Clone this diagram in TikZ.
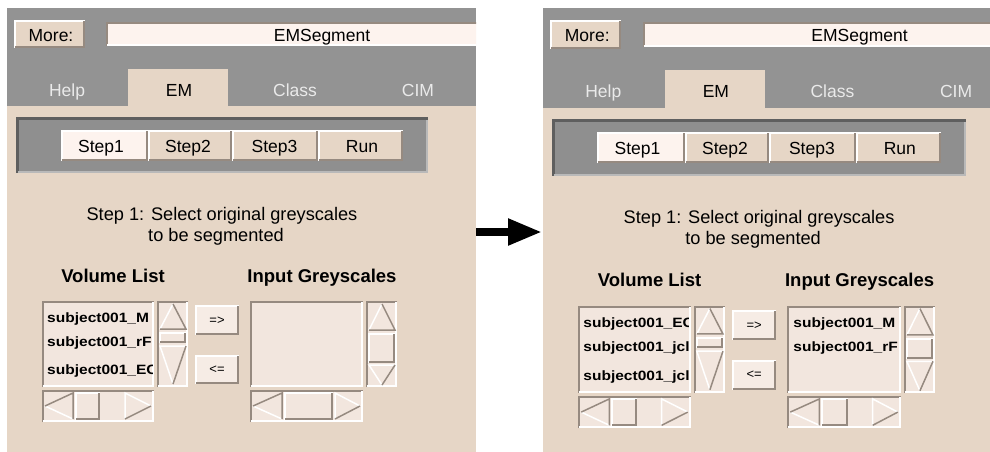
\documentclass[tikz,border=0pt]{standalone}
\usepackage{fontspec}
\usepackage{graphicx}
\setmainfont{Liberation Sans}
\usetikzlibrary{arrows.meta}
\definecolor{beige}{RGB}{230,214,198}
\definecolor{hdrgray}{RGB}{147,147,147}
\definecolor{fieldbg}{RGB}{253,243,238}
\definecolor{listbg}{RGB}{242,230,222}
\definecolor{btnbg}{RGB}{246,236,229}
\definecolor{bevdark}{RGB}{150,138,128}
\definecolor{framedark}{RGB}{95,95,95}
\definecolor{framelight}{RGB}{185,185,185}
\definecolor{tabtext}{RGB}{234,234,234}
\definecolor{stepbg}{RGB}{143,143,143}
\tikzset{
  uitext/.style={font=\fontsize{17.5}{20}\selectfont, inner sep=0pt, text=black, anchor=base},
  insttext/.style={font=\fontsize{18.2}{21}\selectfont, inner sep=0pt, text=black, anchor=base},
  tablabel/.style={uitext, text=tabtext},
  headtext/.style={font=\bfseries\fontsize{18.5}{22}\selectfont, inner sep=0pt, anchor=base},
  itemtext/.style={font=\bfseries\fontsize{13.5}{15}\selectfont, inner sep=0pt, anchor=base west},
  smalltext/.style={font=\fontsize{13}{15}\selectfont, inner sep=0pt},
}
\newcommand\raisedbox[5]{%
  \fill[#5] (#1,#2) rectangle (#3,#4);
  \draw[white,line width=2pt] (#1+1,#4) -- (#1+1,#2+1) -- (#3,#2+1);
  \draw[bevdark,line width=2pt] (#1+1,#4-1) -- (#3-1,#4-1) -- (#3-1,#2+1);
}
\newcommand\sunkenbox[5]{%
  \fill[#5] (#1,#2) rectangle (#3,#4);
  \draw[bevdark,line width=2pt] (#1+1,#4) -- (#1+1,#2+1) -- (#3,#2+1);
  \draw[white,line width=2pt] (#1+1,#4-1) -- (#3-1,#4-1) -- (#3-1,#2+1);
}
\newcommand\uptri[4]{%
  \fill[listbg] ({(#1+#2)/2},#3) -- (#1,#4) -- (#2,#4) -- cycle;
  \draw[white,line width=1.5pt] (#1,#4) -- ({(#1+#2)/2},#3);
  \draw[bevdark,line width=1.5pt] ({(#1+#2)/2},#3) -- (#2,#4) -- (#1,#4);
}
\newcommand\downtri[4]{%
  \fill[listbg] (#1,#3) -- (#2,#3) -- ({(#1+#2)/2},#4) -- cycle;
  \draw[white,line width=1.5pt] ({(#1+#2)/2},#4) -- (#1,#3) -- (#2,#3);
  \draw[bevdark,line width=1.5pt] (#2,#3) -- ({(#1+#2)/2},#4);
}
\newcommand\lefttri[4]{%
  \fill[listbg] (#1,{(#3+#4)/2}) -- (#2,#3) -- (#2,#4) -- cycle;
  \draw[white,line width=1.5pt] (#2,#4) -- (#1,{(#3+#4)/2});
  \draw[bevdark,line width=1.5pt] (#1,{(#3+#4)/2}) -- (#2,#3) -- (#2,#4);
}
\newcommand\righttri[4]{%
  \fill[listbg] (#1,{(#3+#4)/2}) -- (#2,#3) -- (#2,#4) -- cycle;
  \draw[white,line width=1.5pt] (#2,#4) -- (#2,#3) -- (#1,{(#3+#4)/2});
  \draw[bevdark,line width=1.5pt] (#1,{(#3+#4)/2}) -- (#2,#4);
}
% #1 prefix, #2 input vslider bottom, #3 input hslider right
\newcommand\uipanel[3]{%
  \begin{scope}
  \clip (7,8) rectangle (476,470);
  \fill[beige] (7,8) rectangle (476,470);
  \fill[hdrgray] (7,8) rectangle (476,106);
  \sunkenbox{106}{22}{480}{46}{fieldbg}
  \raisedbox{14}{20}{85}{48}{beige}
  \node[uitext] (#1-more) at (51,41) {More:};
  \node[uitext] (#1-title) at (322,41) {EMSegment};
  \fill[beige] (128,69) rectangle (228,106);
  \node[tablabel] (#1-help) at (67,96) {Help};
  \node[uitext] (#1-em) at (179,96) {EM};
  \node[tablabel] (#1-class) at (295,96) {Class};
  \node[tablabel] (#1-cim) at (418,96) {CIM};
  % step frame
  \fill[stepbg] (16,117) rectangle (428,173);
  \draw[framedark,line width=3pt] (17.5,173) -- (17.5,118.5) -- (428,118.5);
  \draw[framelight,line width=2pt] (18,172) -- (427,172) -- (427,120);
  \raisedbox{61}{130}{148}{161}{fieldbg}
  \raisedbox{148}{130}{232}{161}{beige}
  \raisedbox{232}{130}{318}{161}{beige}
  \raisedbox{318}{130}{403}{161}{beige}
  \node[uitext] (#1-s1) at (101,152) {Step1};
  \node[uitext] (#1-s2) at (188,152) {Step2};
  \node[uitext] (#1-s3) at (274.5,152) {Step3};
  \node[uitext] (#1-run) at (362,152) {Run};
  \node[insttext] (#1-inst1) at (222,220) {Step 1: Select original greyscales};
  \node[insttext] (#1-inst2) at (216,241) {to be segmented};
  \node[headtext] (#1-vol) at (113,282) {Volume List};
  \node[headtext] (#1-inp) at (322,282) {Input Greyscales};
  % volume list
  \sunkenbox{42}{301}{154}{387}{listbg}
  \sunkenbox{157}{301}{188}{387}{listbg}
  \uptri{160}{186}{304}{329}
  \raisedbox{159}{332}{186}{343}{listbg}
  \downtri{160}{186}{346}{384}
  \sunkenbox{42}{390}{154}{422}{listbg}
  \lefttri{45}{73}{393}{419}
  \raisedbox{75}{392}{100}{420}{listbg}
  \righttri{151}{125}{393}{419}
  % buttons
  \raisedbox{195}{305}{239}{335}{btnbg}
  \raisedbox{195}{355}{239}{384}{btnbg}
  \node[smalltext] (#1-add) at (217,320.5) {=>};
  \node[smalltext] (#1-rem) at (217,369.5) {<=};
  % input list
  \sunkenbox{250}{301}{363}{387}{listbg}
  \sunkenbox{366}{301}{397}{387}{listbg}
  \uptri{369}{395}{304}{330}
  \raisedbox{368}{333}{395}{#2}{listbg}
  \downtri{369}{395}{#2+2}{385}
  \sunkenbox{250}{390}{363}{422}{listbg}
  \lefttri{253}{282}{393}{419}
  \raisedbox{284}{392}{#3}{420}{listbg}
  \righttri{360}{335}{393}{419}
  \end{scope}
}
\newcommand\listitems[4]{% #1 prefix, #2 x-left of clip, #3 x-right, #4 items
  \begin{scope}
  \clip (#2,303) rectangle (#3,385);
  #4
  \end{scope}
}
\begin{document}
\begin{tikzpicture}[x=1pt,y=-1pt]
\clip (0,0) rectangle (990,451);
\fill[white] (0,0) rectangle (990,451);
% left panel
\uipanel{L}{363}{333}
\listitems{L}{44}{152}{%
  \node[itemtext] (L-v1) at (47,322.5) {\scalebox{1.15}[1]{subject001\_M}};
  \node[itemtext] (L-v2) at (47,346.5) {\scalebox{1.15}[1]{subject001\_rF}};
  \node[itemtext] (L-v3) at (47,374.5) {\scalebox{1.15}[1]{subject001\_EC}};
}
% right panel
\begin{scope}[xshift=536pt, xscale=1.005, yscale=1.015]
\uipanel{R}{354}{310}
\listitems{R}{44}{152}{%
  \node[itemtext] (R-v1) at (47,322.5) {\scalebox{1.15}[1]{subject001\_EC}};
  \node[itemtext] (R-v2) at (47,346.5) {\scalebox{1.15}[1]{subject001\_jcl}};
  \node[itemtext] (R-v3) at (47,374.5) {\scalebox{1.15}[1]{subject001\_jcl}};
}
\listitems{R}{252}{361}{%
  \node[itemtext] (R-i1) at (256,322.5) {\scalebox{1.15}[1]{subject001\_M}};
  \node[itemtext] (R-i2) at (256,346.5) {\scalebox{1.15}[1]{subject001\_rF}};
}
\end{scope}
% arrow between the panels
\coordinate (arrowtail) at (476,232);
\coordinate (arrowhead) at (542,232);
\draw[line width=8pt, -{Triangle[length=34pt,width=25pt]}] (arrowtail) -- (arrowhead);
\end{tikzpicture}
\end{document}
